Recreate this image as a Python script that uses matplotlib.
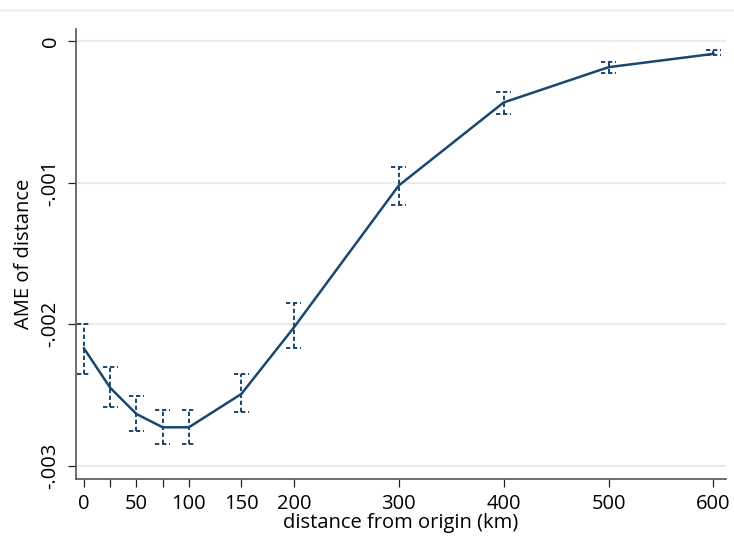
import matplotlib.pyplot as plt
from matplotlib.lines import Line2D

# distance bins (km) and average marginal effects with 95% CI
distance = [0, 25, 50, 75, 100, 150, 200, 300, 400, 500, 600]
ame = [-0.002169, -0.002447, -0.002632, -0.002726, -0.002726, -0.002491,
       -0.002023, -0.001021, -0.000435, -0.000186, -0.000092]
ci_low = [-0.002348, -0.002585, -0.002752, -0.002844, -0.002844, -0.002618,
          -0.002164, -0.001160, -0.000513, -0.000224, -0.000103]
ci_high = [-0.001997, -0.002298, -0.002505, -0.002602, -0.002602, -0.002350,
           -0.001847, -0.000891, -0.000362, -0.000150, -0.000068]

xticks = [0, 25, 50, 75, 100, 150, 200, 300, 400, 500, 600]
xticklabels = ['0', '', '50', '', '100', '150', '200', '300', '400', '500', '600']
yticks = [0, -0.001, -0.002, -0.003]
yticklabels = ['0', '-.001', '-.002', '-.003']

navy = '#1a476f'
plt.rcParams['font.family'] = ['Open Sans', 'DejaVu Sans']

fig = plt.figure(figsize=(7.34, 5.53), dpi=100)
ax = fig.add_axes([0.1035, 0.134, 0.885, 0.814])

# thin border line at the top of the graph region
fig.add_artist(Line2D([0, 1], [0.982, 0.982], color='#e6e6e6', lw=1,
                      transform=fig.transFigure))

for y in yticks:
    ax.axhline(y, color='#e4eef0', lw=1.6, zorder=0)

dash = (0, (2.2, 1.4))
cap = 7
ax.vlines(distance, ci_low, ci_high, colors=navy, lw=1.4, linestyles=dash, zorder=2)
ax.hlines(ci_low, [d - cap for d in distance], [d + cap for d in distance],
          colors=navy, lw=1.4, linestyles=dash, zorder=2)
ax.hlines(ci_high, [d - cap for d in distance], [d + cap for d in distance],
          colors=navy, lw=1.4, linestyles=dash, zorder=2)
ax.plot(distance, ame, color=navy, lw=1.8, zorder=3)

ax.set_xlim(-7.6, 611.5)
ax.set_ylim(-0.00309, 0.000085)

ax.set_xticks(xticks)
ax.set_xticklabels(xticklabels, fontsize=14.5)
ax.set_yticks(yticks)
ax.set_yticklabels(yticklabels, fontsize=14.5, rotation=90, va='center')
ax.tick_params(axis='both', length=6, width=0.9, color='#222222', pad=5)

ax.set_xlabel('distance from origin (km)', fontsize=14.5, labelpad=-1)
ax.set_ylabel('AME of distance', fontsize=14.5, labelpad=5)

for s in ['top', 'right']:
    ax.spines[s].set_visible(False)
for s in ['left', 'bottom']:
    ax.spines[s].set_color('#555555')
    ax.spines[s].set_linewidth(1.2)

fig.savefig('out.png', dpi=100, facecolor='white')
